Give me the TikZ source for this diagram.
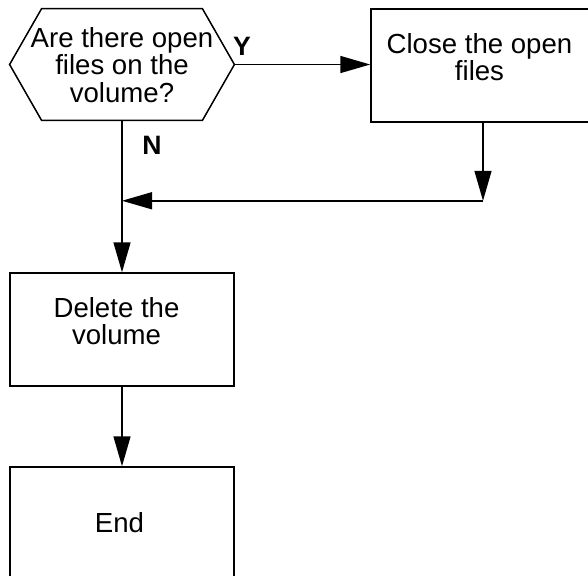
\documentclass[tikz,border=0pt]{standalone}
\usepackage{fontspec}
\setmainfont{Liberation Sans}
\usetikzlibrary{arrows.meta,calc}

% #1: twice the horizontal offset, #2: raise of the first baseline above the
% node centre, #3: the lines of text
\newcommand{\boxtext}[3]{\makebox[0pt]{\hspace*{#1}\raisebox{#2}[0pt][0pt]{%
  \begin{tabular}[t]{@{}c@{}}#3\end{tabular}}}}

\begin{document}
\begin{tikzpicture}[x=0.5pt,y=-0.5pt,
  every node/.style={font=\fontsize{13.8}{12.75}\selectfont, inner sep=0pt},
  stepbox/.style={draw, line width=0.75pt, minimum width=112pt, minimum height=56.5pt},
  flow/.style={line width=0.75pt},
  arr/.style={flow, -{Triangle[length=15pt,width=8.5pt]}},
  tag/.style={font=\fontsize{13.3}{12.75}\selectfont\bfseries}]

\clip (0,0) rectangle (588,575);

% decision
\node[minimum width=112pt, minimum height=55.5pt] (q) at (122,64.5)
  {\boxtext{0pt}{8.75pt}{Are there open\\files on the\\volume?}};
\draw[flow] (q.west) -- ($(q.north west)+(32,0)$) -- ($(q.north east)+(-32,0)$)
  -- (q.east) -- ($(q.south east)+(-32,0)$) -- ($(q.south west)+(32,0)$) -- cycle;

% process steps
\node[stepbox] (close) at (483,65.5) {\boxtext{-3.5pt}{6.25pt}{Close the open\\files}};
\node[stepbox] (del) at (122,329.5) {\boxtext{-5.5pt}{6.25pt}{Delete the\\volume}};
\node[stepbox] (end) at (122,523.5) {\boxtext{-2.5pt}{-4.25pt}{End}};

% connectors
\coordinate (join) at ($(close.south)+(0,78)$);
\draw[arr] (q.east) -- (q.east -| close.west);
\draw[arr] (close.south) -- (join);
\draw[arr] (join) -- (join -| q.south);
\draw[arr] (q.south) -- (del.north);
\draw[arr] (del.south) -- (end.north);

% branch labels
\node[tag] (yes) at (242,46) {Y};
\node[tag] (no) at (152,145) {N};
\end{tikzpicture}
\end{document}
